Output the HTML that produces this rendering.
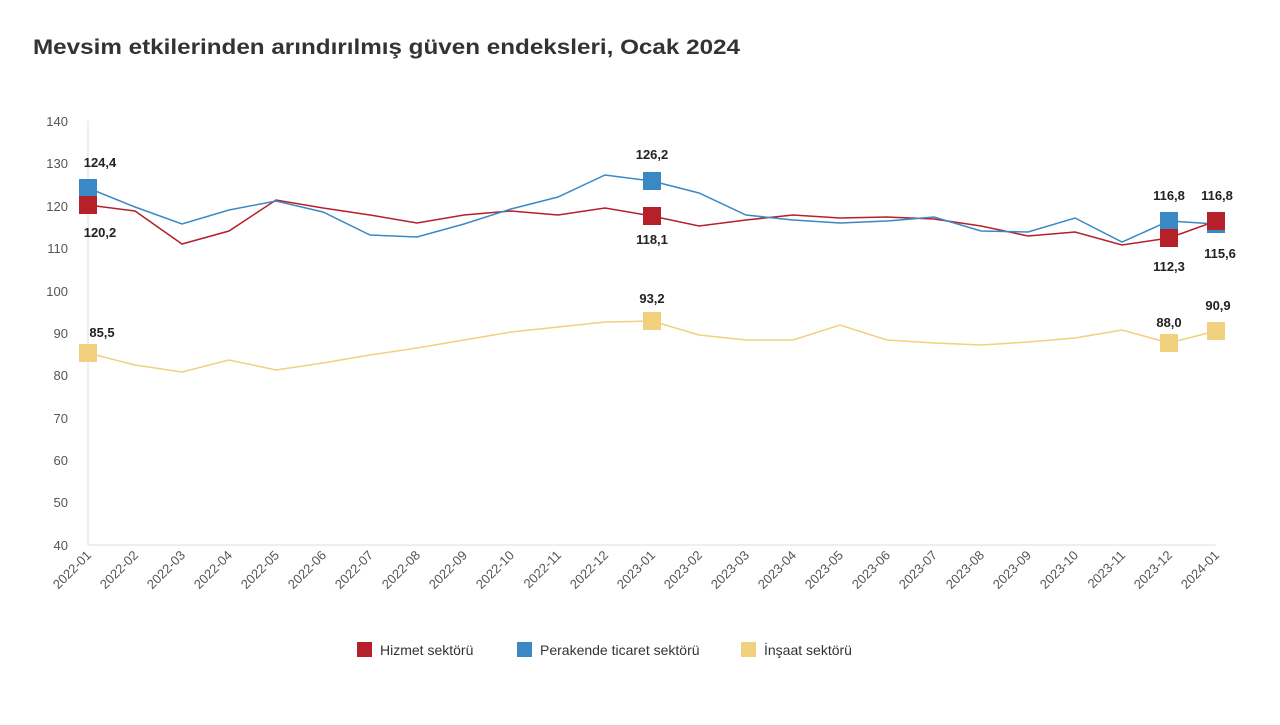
<!DOCTYPE html>
<html><head><meta charset="utf-8"><style>
body{margin:0;background:#fff;width:1280px;height:720px;overflow:hidden;font-family:"Liberation Sans",sans-serif}
</style></head><body>
<svg width="1280" height="720" xmlns="http://www.w3.org/2000/svg" font-family="Liberation Sans, sans-serif">
<text x="33" y="54" font-size="21" font-weight="bold" fill="#333" textLength="707" lengthAdjust="spacingAndGlyphs">Mevsim etkilerinden arındırılmış güven endeksleri, Ocak 2024</text>
<line x1="88" y1="121" x2="88" y2="545" stroke="#ddd"/>
<line x1="88" y1="545" x2="1216" y2="545" stroke="#ddd"/>
<g font-size="13" fill="#555" text-anchor="end">
<text x="68" y="126">140</text><text x="68" y="168">130</text><text x="68" y="211">120</text><text x="68" y="253">110</text><text x="68" y="296">100</text><text x="68" y="338">90</text><text x="68" y="380">80</text><text x="68" y="423">70</text><text x="68" y="465">60</text><text x="68" y="507">50</text><text x="68" y="550">40</text>
</g>
<g id="xl" font-size="13" fill="#555" text-anchor="end"></g>
<polyline id="r" fill="none" stroke="#b5202a" stroke-width="1.5"/>
<polyline id="b" fill="none" stroke="#3a88c4" stroke-width="1.5"/>
<polyline id="y" fill="none" stroke="#f1d07e" stroke-width="1.5"/>
<g id="m"></g>
<g font-size="13" font-weight="bold" fill="#222" text-anchor="middle">
<text x="100" y="167">124,4</text><text x="100" y="237">120,2</text><text x="102" y="337">85,5</text>
<text x="652" y="159">126,2</text><text x="652" y="244">118,1</text><text x="652" y="303">93,2</text>
<text x="1169" y="200">116,8</text><text x="1169" y="271">112,3</text><text x="1169" y="327">88,0</text>
<text x="1217" y="200">116,8</text><text x="1220" y="258">115,6</text><text x="1218" y="310">90,9</text>
</g>
<g font-size="14" fill="#333">
<rect x="357" y="642" width="15" height="15" fill="#b5202a"/><text x="380" y="655">Hizmet sektörü</text>
<rect x="517" y="642" width="15" height="15" fill="#3a88c4"/><text x="540" y="655">Perakende ticaret sektörü</text>
<rect x="741" y="642" width="15" height="15" fill="#f1d07e"/><text x="764" y="655">İnşaat sektörü</text>
</g>
</svg>
<script>
var R=[205,211,244,231,200,208,215,223,215,211,215,208,216,226,220,215,218,217,219,226,236,232,245,238,221];
var B=[188,207,224,210,201,212,235,237,224,209,197,175,181,193,215,220,223,221,217,231,232,218,242,221,224];
var Y=[353,365,372,360,370,363,355,348,340,332,327,322,321,335,340,340,325,340,343,345,342,338,330,343,331];
function pts(a){return a.map(function(v,i){return (88+47*i)+","+v}).join(" ")}
document.getElementById('r').setAttribute('points',pts(R));
document.getElementById('b').setAttribute('points',pts(B));
document.getElementById('y').setAttribute('points',pts(Y));
var ns="http://www.w3.org/2000/svg",m=document.getElementById('m');
function sq(i,v,c){var r=document.createElementNS(ns,'rect');r.setAttribute('x',88+47*i-9);r.setAttribute('y',v-9);r.setAttribute('width',18);r.setAttribute('height',18);r.setAttribute('fill',c);m.appendChild(r);}
[0,12,23,24].forEach(function(i){sq(i,Y[i],'#f1d07e');sq(i,B[i],'#3a88c4');sq(i,R[i],'#b5202a');});
var xl=document.getElementById('xl');
for(var i=0;i<25;i++){var yr=2022+Math.floor(i/12),mo=i%12+1;var t=document.createElementNS(ns,'text');var x=88+47*i+4,y=556;t.setAttribute('x',x);t.setAttribute('y',y);t.setAttribute('transform','rotate(-45 '+x+' '+y+')');t.textContent=yr+'-'+(mo<10?'0':'')+mo;xl.appendChild(t);}
</script>
</body></html>
